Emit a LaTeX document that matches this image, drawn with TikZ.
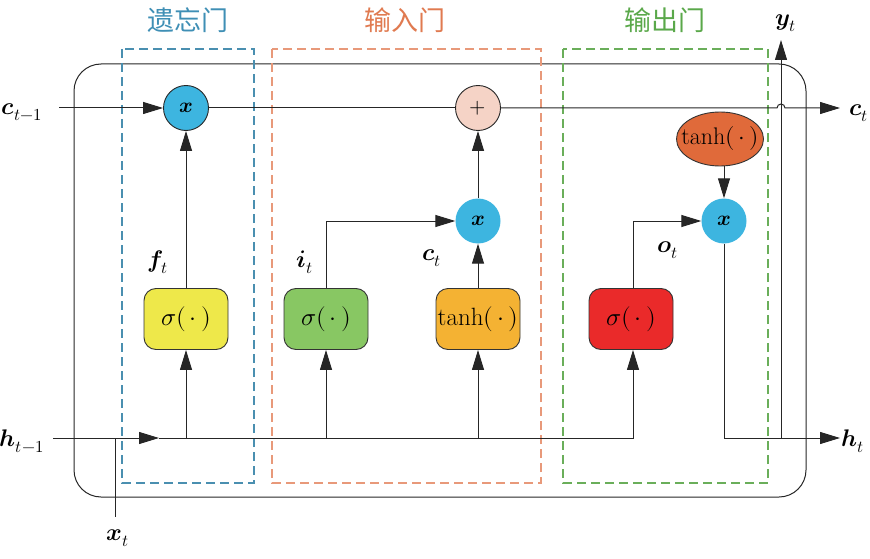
\documentclass[tikz,border=0pt]{standalone}
\usepackage{fontspec}
\usepackage{unicode-math}
\setmathfont{Latin Modern Math}
\newfontfamily\cjk{Noto Sans CJK SC}
\usetikzlibrary{arrows.meta,shapes.geometric,positioning}
\definecolor{cblue}{HTML}{3DB5E0}
\definecolor{cpink}{HTML}{F5D3C6}
\definecolor{fyellow}{HTML}{EEE84A}
\definecolor{fgreen}{HTML}{88C763}
\definecolor{forange}{HTML}{F4B233}
\definecolor{fred}{HTML}{EA2A2A}
\definecolor{fell}{HTML}{E06A3A}
\definecolor{dblue}{HTML}{4A8FB0}
\definecolor{dorange}{HTML}{E8997A}
\definecolor{dgreen}{HTML}{6AAE5A}
\definecolor{tblue}{HTML}{3F8FB5}
\definecolor{torange}{HTML}{E07A50}
\definecolor{tgreen}{HTML}{5AA84A}
\tikzset{
  arr/.style={-{Triangle[length=20pt,width=12pt]}},
  ln/.style={line width=1pt, black!85},
  gatebox/.style={draw=black!80, line width=0.9pt, rounded corners=12pt, minimum width=84pt, minimum height=61pt, inner sep=0pt, font=\fontsize{25}{29}\selectfont},
  opcirc/.style={circle, minimum size=45pt, inner sep=0pt, font=\fontsize{21}{25}\selectfont},
  gdash/.style={dash pattern=on 9pt off 5pt, line width=1.2pt},
  lab/.style={font=\fontsize{24}{28}\selectfont, inner sep=0pt},
  ttl/.style={font=\cjk\fontsize{27}{30}\selectfont, inner sep=0pt}
}
\begin{document}
\begin{tikzpicture}[x=1pt,y=-1pt]
\useasboundingbox (0,0) rectangle (870,559);
% outer box
\draw[ln, rounded corners=27pt] (74,64) rectangle (806,497);
% dashed gate boxes
\draw[gdash, draw=dblue] (122,49) rectangle (254,483);
\draw[gdash, draw=dorange] (272,49) rectangle (541,483);
\draw[gdash, draw=dgreen] (563,49) rectangle (768,483);
\node[ttl, text=tblue] (tf) at (188,20) {遗忘门};
\node[ttl, text=torange] (ti) at (405,20) {输入门};
\node[ttl, text=tgreen] (to) at (665,20) {输出门};
% nodes
\node[opcirc, fill=cblue, draw=black!85, line width=0.9pt] (x1) at (186,108) {$\symbfit{x}$};
\node[opcirc, fill=cpink, draw=black!85, line width=0.9pt] (pl) at (478,108) {$+$};
\node[opcirc, fill=cblue] (x2) at (478,221) {$\symbfit{x}$};
\node[opcirc, fill=cblue] (x3) at (724,221) {$\symbfit{x}$};
\node[gatebox, fill=fyellow] (sf) at (186,319) {$\sigma(\,\cdot\,)$};
\node[gatebox, fill=fgreen] (si) at (326,319) {$\sigma(\,\cdot\,)$};
\node[gatebox, fill=forange] (st) at (478,319) {$\tanh(\,\cdot\,)$};
\node[gatebox, fill=fred] (so) at (631,319) {$\sigma(\,\cdot\,)$};
\node[ellipse, fill=fell, draw=black!80, line width=0.9pt, minimum width=87pt, minimum height=54pt, inner sep=0pt, font=\fontsize{24}{28}\selectfont] (te) at (720,139) {\makebox[0pt]{$\tanh(\,\cdot\,)$}};
% labels
\node[lab] (lc0) at (22,112) {$\symbfit{c}_{t-1}$};
\node[lab] (lh0) at (22,441) {$\symbfit{h}_{t-1}$};
\node[lab] (lc1) at (859,113) {$\symbfit{c}_{t}$};
\node[lab] (lh1) at (853,441) {$\symbfit{h}_{t}$};
\node[lab] (ly) at (786,23) {$\symbfit{y}_{t}$};
\node[lab] (lx) at (118,538) {$\symbfit{x}_{t}$};
\node[lab] (lf) at (158,262) {$\symbfit{f}_{t}$};
\node[lab] (li) at (305,262) {$\symbfit{i}_{t}$};
\node[lab] (lct) at (432,258) {$\symbfit{c}_{t}$};
\node[lab] (lo) at (668,250) {$\symbfit{o}_{t}$};
% coordinates
\coordinate (cin) at (59,108);
\coordinate (hop) at (777,108);
\coordinate (cout) at (840,108);
\coordinate (hin) at (53,438);
\coordinate (hmid) at (159,438);
\coordinate (hend) at (633,438);
\coordinate (xt0) at (115,438);
\coordinate (xt1) at (115,517);
\coordinate (ht0) at (724,438);
\coordinate (hout) at (840,438);
\coordinate (yb) at (781,438);
\coordinate (yt) at (781,40);
% connectors
\draw[ln, arr] (cin) -- (x1);
\draw[ln] (x1) -- (pl);
\draw[ln, arr] (pl.east) -- (hop) arc (180:360:4) -- (cout);
\draw[ln, arr] (sf.north) -- (x1.south);
\draw[ln, arr] (si.north) |- (x2.west);
\draw[ln, arr] (st.north) -- (x2.south);
\draw[ln, arr] (x2.north) -- (pl.south);
\draw[ln, arr] (so.north -| hend) |- (x3.west);
\draw[ln, arr] (te.south -| x3) -- (x3.north);
\draw[ln, arr] (hin) -- (hmid);
\draw[ln, arr] (hmid) -- (hend) -- (so.south -| hend);
\draw[ln, arr] (sf.south |- hin) -- (sf.south);
\draw[ln, arr] (si.south |- hin) -- (si.south);
\draw[ln, arr] (st.south |- hin) -- (st.south);
\draw[ln] (xt0) -- (xt1);
\draw[ln, arr] (x3.south) -- (ht0) -- (hout);
\draw[ln, arr] (yb) -- (yt);
\end{tikzpicture}
\end{document}
